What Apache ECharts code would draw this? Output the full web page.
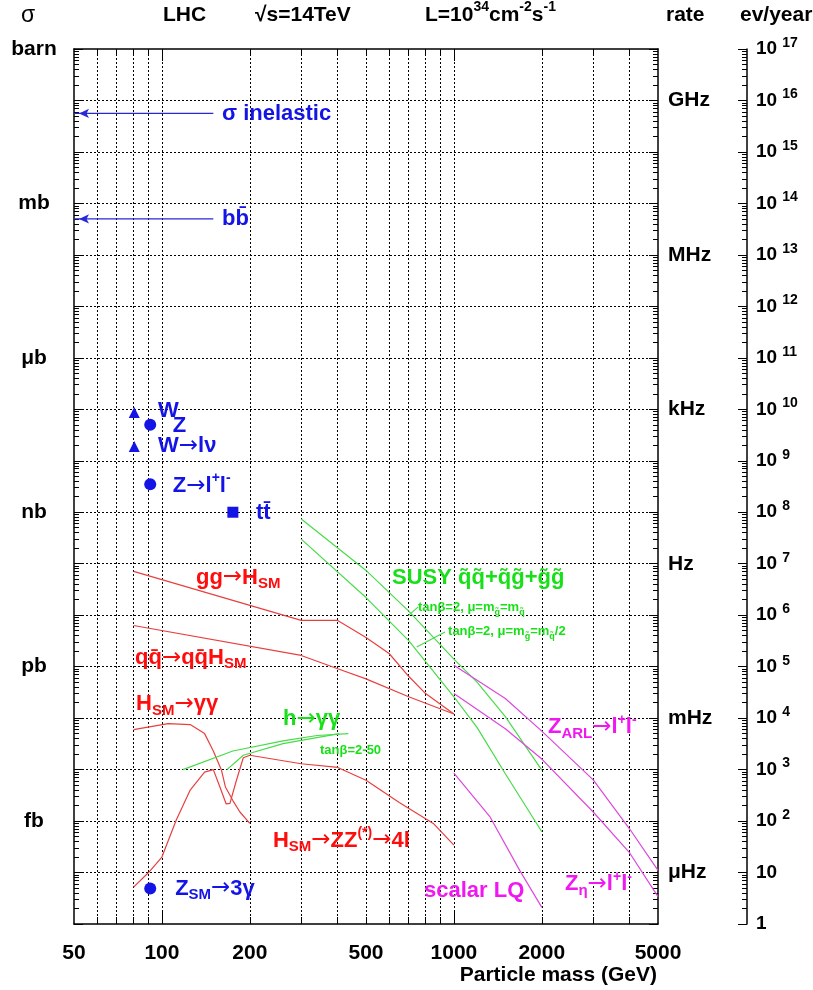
<!DOCTYPE html>
<html><head><meta charset="utf-8">
<script src="https://cdn.jsdelivr.net/npm/echarts@6/dist/echarts.min.js"></script>
<style>html,body{margin:0;padding:0;background:#fff}#c{width:813px;height:990px}</style>
</head><body><div id="c"></div>
<script>
// ---------- data: rates in events/year at L = 1e34 cm^-2 s^-1 ----------
const ggH_mass = [80, 300, 400, 500, 600, 700, 800, 1000];
const ggH_rate = [7.1e6, 7.9e5, 7.9e5, 3.7e5, 1.8e5, 6.5e4, 3.0e4, 1.2e4];
const qqH_mass = [80, 300, 400, 500, 700, 1000];
const qqH_rate = [6.3e5, 1.65e5, 9.1e4, 5.8e4, 2.6e4, 1.2e4];
const Hgg_mass = [80, 105, 125, 140, 150, 160, 165, 175, 185, 200];
const Hgg_rate = [6.0e3, 7.8e3, 7.5e3, 5.0e3, 2.3e3, 970, 460, 250, 150, 90];
const HZZ_mass = [80, 90, 100, 112, 125, 140, 150, 158, 166, 171, 180, 190, 200, 300, 400, 500, 650, 850, 1000];
const HZZ_rate = [5.2, 10, 20, 105, 400, 890, 1000, 460, 215, 220, 620, 1700, 1900, 1300, 1100, 620, 230, 90, 34];
const hgg1_mass = [118, 175, 260, 340, 435];
const hgg1_rate = [1000, 2300, 3600, 4600, 5000];
const hgg2_mass = [167, 190, 260, 405];
const hgg2_rate = [1000, 1900, 3200, 5000];
const susy1_mass = [300, 500, 700, 1000, 1200, 1500, 2000];
const susy1_rate = [7.4e7, 7.4e6, 1.2e6, 1.4e5, 5.0e4, 1.07e4, 980];
const susy2_mass = [300, 500, 700, 1000, 1200, 1500, 2000];
const susy2_rate = [3.0e7, 2.2e6, 3.2e5, 2.6e4, 6.6e3, 830, 62];
const zarl_mass = [1000, 1500, 2000, 3000, 4000, 5000];
const zarl_rate = [1.07e5, 2.4e4, 5.6e3, 630, 70, 11];
const zeta_mass = [1000, 1500, 2000, 3000, 4000, 5000];
const zeta_rate = [3.0e4, 6.2e3, 1.6e3, 150, 24, 3.4];
const lq_mass = [1000, 1330, 1680, 2000];
const lq_rate = [850, 120, 11, 2.1];
const lead1_mass = [698, 755];
const lead1_rate = [9.8e5, 1.45e6];
const lead2_mass = [746, 932];
const lead2_rate = [2.4e5, 4.7e5];
// standard-model points
const triMass = [80.4, 80.4];          // W, W->l nu
const triRate = [8.7e9, 1.9e9];
const dotMass = [91.2, 91.2, 91.2];    // Z, Z->ll, Z_SM->3gamma
const dotRate = [5.0e9, 3.5e8, 4.9];
const sqMass = [175];                  // t tbar
const sqRate = [1.0e8];
// arrows (sigma inelastic, b bbar)
const arrowMass = [50, 150];
const sigmaInelRate = 5.6e15;
const bbRate = 5.0e13;
// axes
const xLabelValues = [50, 100, 200, 500, 1000, 2000, 5000];
const xMajorTicks = [100, 1000];
const xMinorTicks = [60, 70, 80, 90, 200, 300, 400, 500, 600, 700, 800, 900, 2000, 3000, 4000];
const xGrid = [60, 70, 80, 90, 100, 200, 300, 400, 500, 600, 700, 800, 900, 1000, 2000, 3000, 4000];
const decadeExp = [1,2,3,4,5,6,7,8,9,10,11,12,13,14,15,16];
const sigmaUnits = ['barn', 'mb', 'μb', 'nb', 'pb', 'fb'];
const sigmaUnitExp = [17, 14, 11, 8, 5, 2];
const rateUnits = ['GHz', 'MHz', 'kHz', 'Hz', 'mHz', 'μHz'];
const rateUnitExp = [16, 13, 10, 7, 4, 1];
// annotations (text, anchor mass, anchor rate)
const annoText = [
  'σ inelastic', 'bb\u0304', 'W', 'Z', 'W{a|→}lν', 'Z{a|→}l{sup|+}l{sup|-}', 'tt\u0304',
  'gg{a|→}H{sub|SM}', 'qq\u0304{a|→}qq\u0304H{sub|SM}', 'H{sub|SM}{a|→}γγ', 'h{a|→}γγ', 'tanβ=2-50',
  'H{sub|SM}{a|→}ZZ{sup|(*)}{a|→}4l', 'Z{sub|SM}{a|→}3γ',
  'SUSY q\u0303q\u0303+q\u0303g\u0303+g\u0303g\u0303',
  'tanβ=2, μ=m{ssub|g\u0303}=m{ssub|q\u0303}', 'tanβ=2, μ=m{ssub|g\u0303}=m{ssub|q\u0303}/2',
  'Z{sub|ARL}{a|→}l{sup|+}l{sup|-}', 'Z{sub|η}{a|→}l{sup|+}l{sup|-}', 'scalar LQ'
];
const annoMass = [160.6, 160.6, 97, 109, 97, 109, 210, 130.8, 80.9, 81.6, 260, 348, 240, 111, 614, 753, 955, 2100, 2401, 790];
const annoRate = [5.5e15, 5.0e13, 9.4e9, 4.8e9, 1.9e9, 3.3e8, 9.8e7, 5.4e6, 1.5e5, 1.85e4, 9.5e3, 2.35e3, 42, 4.9, 5.2e6, 1.4e6, 4.8e5, 6.6e3, 5.9, 4.3];
const annoGroup = ['b','b','b','b','b','b','b','r','r','r','g','g','r','b','g','g','g','m','m','m'];
const annoSmall = [0,0,0,0,0,0,0,0,0,0,0,1,0,0,0,1,1,0,0,0];

// ---------- styling ----------
const FONT = '"Liberation Sans", Arial, Helvetica, sans-serif';
const TXT = {b: '#1414e6', r: '#ff0c0c', g: '#18e018', m: '#f018f0'};
const LN = {r: '#e84040', g: '#48dc48', m: '#dc48dc', b: '#2828d8'};
const zip = (a, b) => a.map((v, i) => [v, b[i]]);
const expOf = v => Math.round(Math.log10(v));

function curve(name, m, r, color, z) {
  return {type: 'line', name, data: zip(m, r), symbol: 'none', smooth: false, z: z || 3,
    lineStyle: {color, width: 1.2, opacity: 1}, silent: true};
}
function arrow(rate) {
  return {type: 'line', data: [
      {value: [arrowMass[0], rate], symbol: 'arrow', symbolSize: [7, 10], symbolRotate: 90, symbolOffset: [5, 0]},
      {value: [arrowMass[1], rate], symbol: 'none'}],
    showSymbol: true, showAllSymbol: true, itemStyle: {color: LN.b, opacity: 1}, lineStyle: {color: LN.b, width: 1.2}, z: 4, silent: true};
}

const bigRich = {
  sub: {fontSize: 15, lineHeight: 15, verticalAlign: 'bottom', fontWeight: 'bold', fontFamily: FONT},
  sup: {fontSize: 14, lineHeight: 14, verticalAlign: 'top', fontWeight: 'bold', fontFamily: FONT},
  ssub: {fontSize: 9, lineHeight: 9, verticalAlign: 'bottom', fontWeight: 'bold', fontFamily: FONT},
  a: {fontSize: 23, fontWeight: 'normal', fontFamily: '"DejaVu Sans", sans-serif', lineHeight: 28}
};

const annoData = annoText.map((t, i) => ({
  value: [annoMass[i], annoRate[i]],
  label: {formatter: t, color: TXT[annoGroup[i]],
    fontSize: annoSmall[i] ? 13 : 22, lineHeight: annoSmall[i] ? 18 : 28}
}));

const axisFont = {fontSize: 21, fontWeight: 'bold', color: '#000', fontFamily: FONT};
const blackLine = {color: '#000', width: 1.5};

function yAx(pos, offset, fmt, labelOpt) {
  return {type: 'log', logBase: 10, min: 1, max: 1e17, interval: 1, splitNumber: 17,
    position: pos, offset: offset,
    axisLine: {show: true, onZero: false, lineStyle: blackLine},
    axisTick: {show: true, inside: true, length: 9, lineStyle: {color: '#000', width: 1}},
    minorTick: {show: true, splitNumber: 9, length: 5, lineStyle: {color: '#000', width: 1}},
    axisLabel: Object.assign({show: true, formatter: fmt, showMinLabel: true, showMaxLabel: true}, axisFont, labelOpt),
    splitLine: {show: false}, minorSplitLine: {show: false}};
}
function xAx(pos, ticks, len, line, labels) {
  return {type: 'log', logBase: 10, min: 50, max: 5000, position: pos,
    axisLine: {show: line, onZero: false, lineStyle: blackLine},
    axisTick: {show: true, inside: true, length: len, customValues: ticks, lineStyle: {color: '#000', width: 1}},
    axisLabel: labels ? Object.assign({show: true, customValues: xLabelValues, margin: 19, formatter: v => String(Math.round(v))}, axisFont) : {show: false},
    splitLine: {show: false}};
}

const solid = {opacity: 1};
const option = {
  animation: false,
  backgroundColor: '#fff',
  grid: {left: 74, right: 155, top: 49, bottom: 66, containLabel: false, outerBoundsMode: 'none'},
  xAxis: [
    xAx('bottom', xMajorTicks, 12, true, true),
    xAx('bottom', xMinorTicks, 7, false, false),
    xAx('top', xMajorTicks, 12, true, false),
    xAx('top', xMinorTicks, 7, false, false)
  ],
  yAxis: [
    yAx('left', 0, v => { const k = sigmaUnitExp.indexOf(expOf(v)); return k < 0 ? '' : sigmaUnits[k]; },
        {margin: 40, align: 'center'}),
    yAx('right', 0, v => { const k = rateUnitExp.indexOf(expOf(v)); return k < 0 ? '' : rateUnits[k]; },
        {margin: 10, align: 'left'}),
    yAx('right', 89, v => { const e = expOf(v); return e === 0 ? '{b|1}' : e === 1 ? '{b|10}' : '{b|10}{s|' + e + '}'; },
        {margin: 9, align: 'left', rich: {
          b: {fontSize: 19, fontWeight: 'bold', lineHeight: 26, fontFamily: FONT, color: '#000'},
          s: {fontSize: 14, fontWeight: 'bold', lineHeight: 14, verticalAlign: 'top', padding: [0, 0, 0, 5], fontFamily: FONT, color: '#000'}}})
  ],
  series: [
    {type: 'line', data: [], silent: true, z: 1,
      markLine: {silent: true, z: 1, symbol: ['none', 'none'], label: {show: false}, animation: false,
        lineStyle: {color: '#000', type: [2, 2], width: 1},
        data: xGrid.map(v => ({xAxis: v})).concat(decadeExp.map(e => ({yAxis: Math.pow(10, e)})))}},
    curve('gg→H', ggH_mass, ggH_rate, LN.r),
    curve('qq→qqH', qqH_mass, qqH_rate, LN.r),
    curve('H→γγ', Hgg_mass, Hgg_rate, LN.r),
    curve('H→ZZ→4l', HZZ_mass, HZZ_rate, LN.r),
    curve('h→γγ a', hgg1_mass, hgg1_rate, LN.g),
    curve('h→γγ b', hgg2_mass, hgg2_rate, LN.g),
    curve('SUSY 1', susy1_mass, susy1_rate, LN.g),
    curve('SUSY 2', susy2_mass, susy2_rate, LN.g),
    curve('lead 1', lead1_mass, lead1_rate, LN.g),
    curve('lead 2', lead2_mass, lead2_rate, LN.g),
    curve('Z_ARL', zarl_mass, zarl_rate, LN.m),
    curve('Z_eta', zeta_mass, zeta_rate, LN.m),
    curve('scalar LQ', lq_mass, lq_rate, LN.m),
    arrow(sigmaInelRate),
    arrow(bbRate),
    {type: 'scatter', data: zip(triMass, triRate), symbol: 'triangle', symbolSize: 11, itemStyle: {color: TXT.b, opacity: 1}, z: 5, silent: true},
    {type: 'scatter', data: zip(dotMass, dotRate), symbol: 'circle', symbolSize: 12, itemStyle: {color: TXT.b, opacity: 1}, z: 5, silent: true},
    {type: 'scatter', data: zip(sqMass, sqRate), symbol: 'rect', symbolSize: 11, itemStyle: {color: TXT.b, opacity: 1}, z: 5, silent: true},
    {type: 'scatter', data: annoData, symbolSize: 0, z: 6, silent: true, itemStyle: solid,
      label: {show: true, position: 'right', distance: 0, fontWeight: 'bold', fontFamily: FONT, rich: bigRich, opacity: 1},
      labelLayout: {hideOverlap: false}}
  ],
  graphic: [
    {type: 'text', left: 21, top: 4, style: {text: 'σ', fontSize: 23, fontFamily: FONT, fill: '#000'}},
    {type: 'text', left: 163, top: 5, style: {text: 'LHC', fontSize: 21, fontWeight: 'bold', fontFamily: FONT, fill: '#000'}},
    {type: 'text', left: 255, top: 5, style: {text: '√s=14TeV', fontSize: 21, fontWeight: 'bold', fontFamily: FONT, fill: '#000'}},
    {type: 'text', left: 425, top: 0, style: {text: 'L=10{s|34}cm{s|-2}s{s|-1}', fontSize: 21, fontWeight: 'bold', fontFamily: FONT, fill: '#000', lineHeight: 30,
      rich: {s: {fontSize: 14, fontWeight: 'bold', fontFamily: FONT, lineHeight: 14, verticalAlign: 'top', fill: '#000'}}}},
    {type: 'text', left: 666, top: 5, style: {text: 'rate', fontSize: 21, fontWeight: 'bold', fontFamily: FONT, fill: '#000'}},
    {type: 'text', left: 740, top: 5, style: {text: 'ev/year', fontSize: 21, fontWeight: 'bold', fontFamily: FONT, fill: '#000'}},
    {type: 'text', right: 156, top: 965, style: {text: 'Particle mass (GeV)', fontSize: 21, fontWeight: 'bold', fontFamily: FONT, fill: '#000'}}
  ]
};
const chart = echarts.init(document.getElementById('c'), null, {renderer: 'canvas', width: 813, height: 990});
chart.setOption(option);
</script></body></html>
